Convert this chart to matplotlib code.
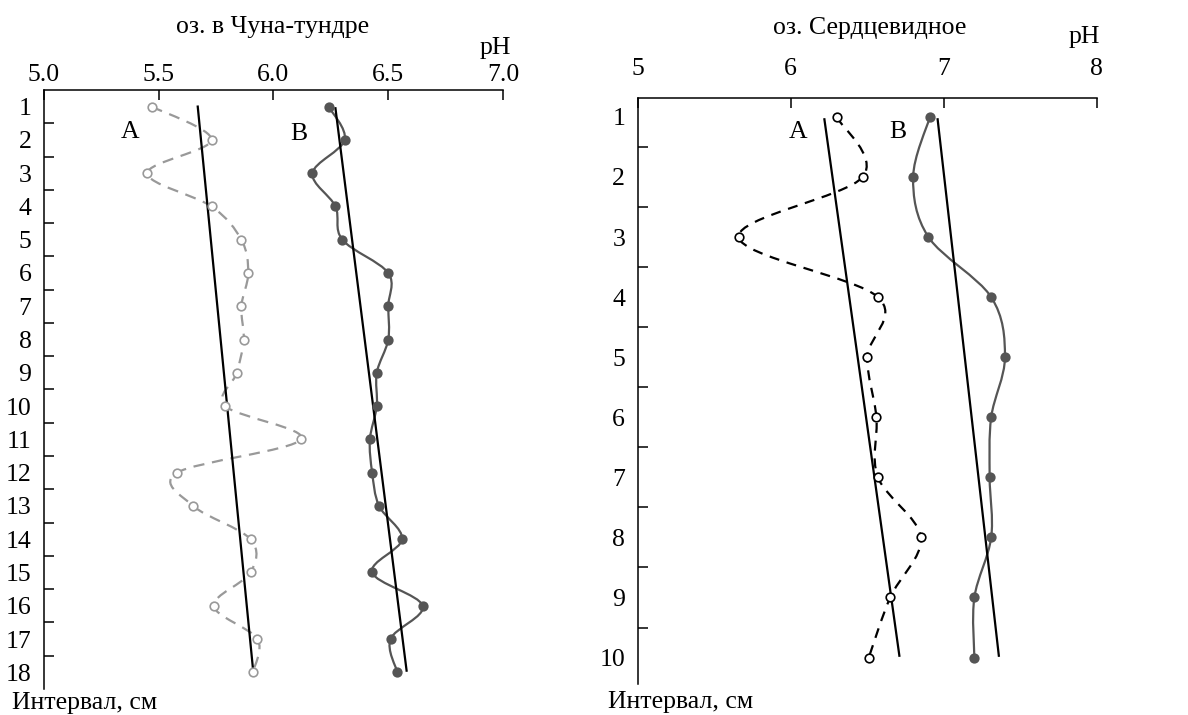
import numpy as np
import matplotlib
matplotlib.use('Agg')
import matplotlib.pyplot as plt
from matplotlib.path import Path
from matplotlib.patches import PathPatch

plt.rcParams['font.family'] = ['Liberation Serif', 'DejaVu Serif']
plt.rcParams['font.size'] = 18.5

# --- оз. в Чуна-тундре ---
depth_1 = np.arange(1, 19)
ph_a_1 = [5.47, 5.73, 5.45, 5.73, 5.86, 5.89, 5.86, 5.87, 5.84,
          5.79, 6.12, 5.58, 5.65, 5.90, 5.90, 5.74, 5.93, 5.91]
ph_b_1 = [6.24, 6.31, 6.17, 6.27, 6.30, 6.50, 6.50, 6.50, 6.45,
          6.45, 6.42, 6.43, 6.46, 6.56, 6.43, 6.65, 6.51, 6.54]
trend_depth_1 = [1.0, 17.85]
trend_a_1 = [5.67, 5.91]
trend_depth_1b = [1.05, 17.95]
trend_b_1 = [6.27, 6.58]

# --- оз. Сердцевидное ---
depth_2 = np.arange(1, 11)
ph_a_2 = [6.30, 6.47, 5.66, 6.57, 6.50, 6.56, 6.57, 6.85, 6.65, 6.51]
ph_b_2 = [6.91, 6.80, 6.90, 7.31, 7.40, 7.31, 7.30, 7.31, 7.20, 7.20]
trend_depth_2 = [1.04, 9.97]
trend_a_2 = [6.22, 6.71]
trend_b_2 = [6.96, 7.36]


def smooth_path(x, y):
    # Catmull-Rom segments written as cubic Bezier pieces
    pts = np.column_stack([x, y]).astype(float)
    n = len(pts)
    verts = [pts[0]]
    codes = [Path.MOVETO]
    for i in range(n - 1):
        p0 = pts[i - 1] if i > 0 else pts[i]
        p1 = pts[i]
        p2 = pts[i + 1]
        p3 = pts[i + 2] if i + 2 < n else pts[i + 1]
        c1 = p1 + (p2 - p0) / 6.0
        c2 = p2 - (p3 - p1) / 6.0
        verts += [c1, c2, p2]
        codes += [Path.CURVE4] * 3
    return Path(verts, codes)


def profile(ax, ph, depth, color, filled, dashes=None):
    patch = PathPatch(smooth_path(ph, depth), fill=False, edgecolor=color,
                      lw=1.6, zorder=2)
    if dashes is not None:
        patch.set_linestyle((0, dashes))
    ax.add_patch(patch)
    ax.plot(ph, depth, 'o', ms=6.2, mec=color, mew=1.2,
            mfc=color if filled else 'white', zorder=4)


def style_axes(ax, xticks, xlabels, depth, ylim, xpad):
    ax.set_xlim(xticks[0], xticks[-1])
    ax.set_ylim(*ylim)
    for s in ['right', 'bottom']:
        ax.spines[s].set_visible(False)
    for s in ['left', 'top']:
        ax.spines[s].set_linewidth(1.1)
    ax.xaxis.tick_top()
    ax.set_xticks(xticks)
    ax.set_xticklabels(xlabels)
    ax.tick_params(axis='x', direction='in', length=7, width=1.1, pad=xpad)
    ax.set_yticks(depth)
    ax.set_yticklabels([str(d) for d in depth])
    ax.tick_params(axis='y', length=0, pad=9)
    ax.set_yticks(np.asarray(depth[:-1]) + 0.5, minor=True)
    ax.tick_params(axis='y', which='minor', direction='in', length=7, width=1.1)


fig = plt.figure(figsize=(11.88, 7.15), dpi=100)

# left panel
ax1 = fig.add_axes([0.0370, 0.0364, 0.3864, 0.8378])
profile(ax1, ph_a_1, depth_1, '#999999', False, dashes=(5, 3.5))
profile(ax1, ph_b_1, depth_1, '#555555', True)
ax1.plot(trend_a_1, trend_depth_1, color='black', lw=1.6, zorder=3)
ax1.plot(trend_b_1, trend_depth_1b, color='black', lw=1.6, zorder=3)
style_axes(ax1, [5.0, 5.5, 6.0, 6.5, 7.0], ['5.0', '5.5', '6.0', '6.5', '7.0'],
           depth_1, (18.5, 0.5), 3)
ax1.text(5.375, 1.75, 'A', ha='center', va='center')
ax1.text(6.11, 1.83, 'B', ha='center', va='center')

# right panel
ax2 = fig.add_axes([0.5368, 0.0434, 0.3864, 0.8200])
profile(ax2, ph_a_2, depth_2, 'black', False, dashes=(4.5, 3.5))
profile(ax2, ph_b_2, depth_2, '#555555', True)
ax2.plot(trend_a_2, trend_depth_2, color='black', lw=1.6, zorder=3)
ax2.plot(trend_b_2, trend_depth_2, color='black', lw=1.6, zorder=3)
style_axes(ax2, [5, 6, 7, 8], ['5', '6', '7', '8'],
           depth_2, (10.44, 0.68), 13)
ax2.text(6.05, 1.25, 'A', ha='center', va='center')
ax2.text(6.70, 1.25, 'B', ha='center', va='center')

# titles, units and axis names
fig.text(273 / 1188, 1 - 27 / 715, 'оз. в Чуна-тундре', ha='center', va='center')
fig.text(511 / 1188, 1 - 48 / 715, 'pH', ha='right', va='center')
fig.text(12 / 1188, 1 - 703 / 715, 'Интервал, см', ha='left', va='center')

fig.text(870 / 1188, 1 - 28 / 715, 'оз. Сердцевидное', ha='center', va='center')
fig.text(1100 / 1188, 1 - 37 / 715, 'pH', ha='right', va='center')
fig.text(608 / 1188, 1 - 702 / 715, 'Интервал, см', ha='left', va='center')

fig.savefig('out.png', dpi=100)
